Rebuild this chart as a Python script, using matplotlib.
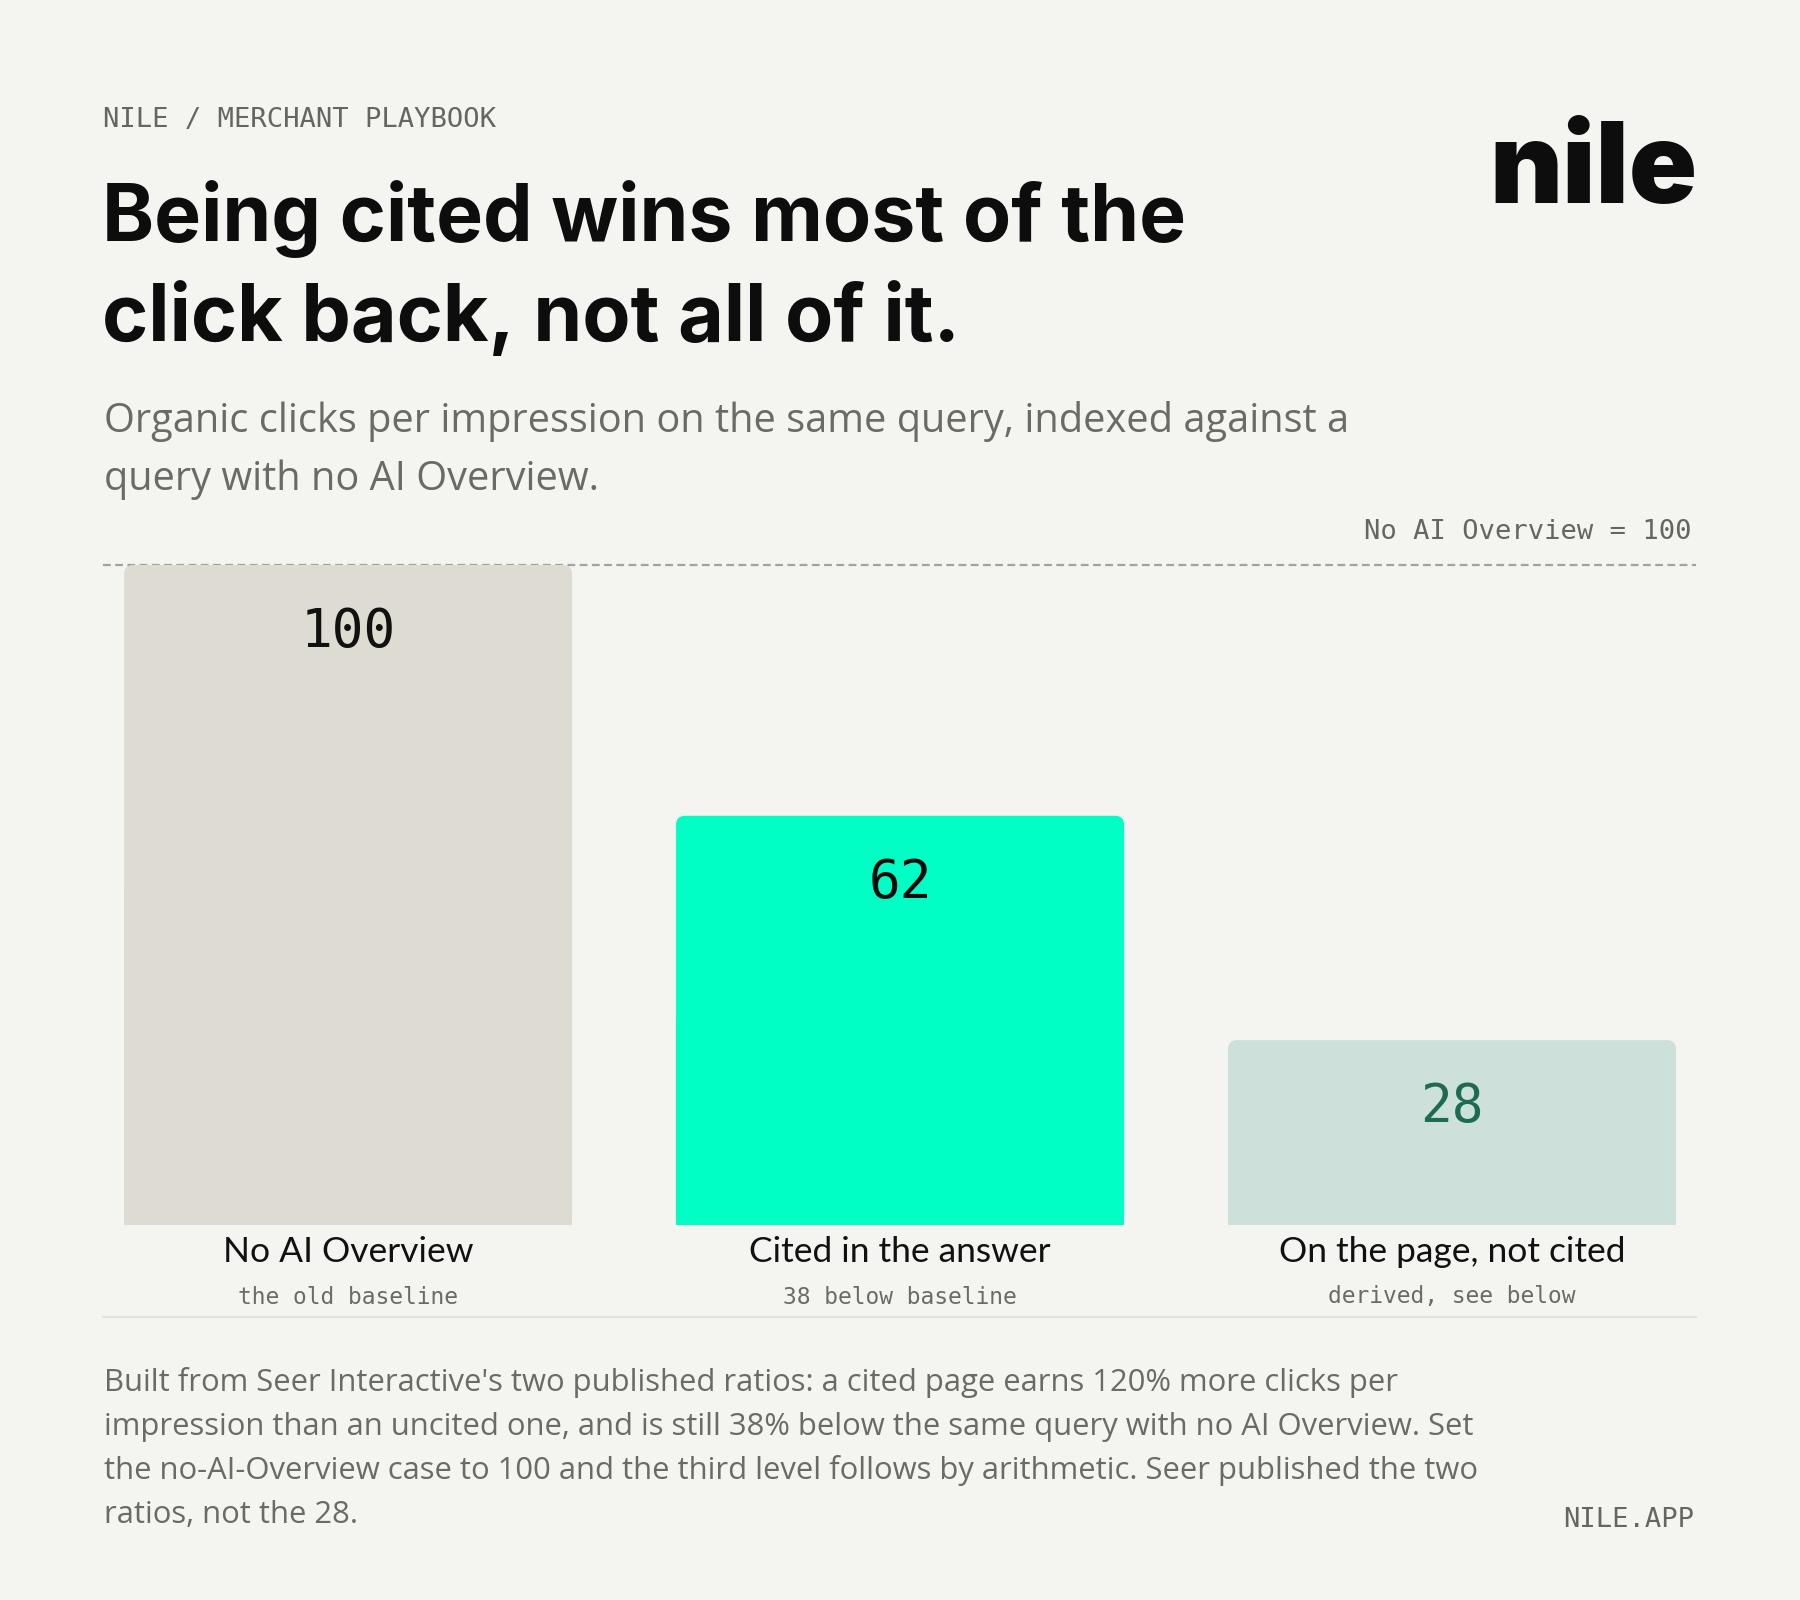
import matplotlib
matplotlib.use("Agg")
import matplotlib.pyplot as plt
from matplotlib.patches import FancyBboxPatch, Rectangle

# ---- data ----
categories = ["No AI Overview", "Cited in the answer", "On the page, not cited"]
sublabels = ["the old baseline", "38 below baseline", "derived, see below"]
values = [100, 62, 28]
value_labels = ["100", "62", "28"]
baseline_value = 100

bar_colors = ["#dedbd3", "#00ffc4", "#cde0da"]
label_colors = ["#111111", "#0b0b0b", "#1d6b52"]

BG = "#f4f4f0"
W, H = 1800, 1600
fig = plt.figure(figsize=(18, 16), dpi=100, facecolor=BG)

def fx(px):
    return px / W

def fy(py):
    return 1 - py / H

SANS = ["Lato", "DejaVu Sans"]
BODY = ["Open Sans", "DejaVu Sans"]
MONO = ["DejaVu Sans Mono"]
GRAY = "#6b6b66"

# header
fig.text(fx(103), fy(120), "NILE / MERCHANT PLAYBOOK", family=MONO, fontsize=19.5,
         color="#666660", va="center", ha="left")
# title
fig.text(fx(102), fy(241), "Being cited wins most of the", family=["Inter", "DejaVu Sans"],
         fontsize=56.7, fontweight="bold", color="#0d0d0d", va="baseline", ha="left")
fig.text(fx(102), fy(341), "click back, not all of it.", family=["Inter", "DejaVu Sans"],
         fontsize=56.7, fontweight="bold", color="#0d0d0d", va="baseline", ha="left")
# logo
fig.text(fx(1697), fy(203), "nile", family=["Inter", "DejaVu Sans"], fontsize=81,
         fontweight="black", color="#0d0d0d", va="baseline", ha="right")
# subtitle
fig.text(fx(104), fy(432), "Organic clicks per impression on the same query, indexed against a",
         family=BODY, fontsize=28.6, color=GRAY, va="baseline", ha="left")
fig.text(fx(104), fy(490), "query with no AI Overview.",
         family=BODY, fontsize=28.6, color=GRAY, va="baseline", ha="left")
# baseline note
fig.text(fx(1691), fy(532), "No AI Overview = 100", family=MONO, fontsize=19.5,
         color="#666660", va="center", ha="right")

# ---- axes ----
ax = fig.add_axes([fx(103), fy(1225), fx(1696) - fx(103), (1225 - 565) / H])
ax.set_facecolor("none")
ax.set_xlim(-0.444, 2.442)
ax.set_ylim(0, 100)
ax.axis("off")

bw = 0.8116
bars = ax.bar(range(len(values)), values, width=bw, color=bar_colors)
# replace with rounded-top shapes
ax_w_px = 1696 - 103
ax_h_px = 1225 - 565
ux = (2.442 + 0.444) / ax_w_px  # data units per px in x
uy = 100 / ax_h_px
r_px = 9
for b, c in zip(bars, bar_colors):
    b.set_visible(False)
    x0, w, h = b.get_x(), b.get_width(), b.get_height()
    rr = r_px * ux
    p = FancyBboxPatch((x0 + rr, rr * uy / ux), w - 2 * rr, h - 2 * rr * uy / ux,
                       boxstyle=f"round,pad={rr}", mutation_aspect=uy / ux,
                       facecolor=c, edgecolor="none")
    ax.add_patch(p)
    ax.add_patch(Rectangle((x0, 0), w, h / 2, facecolor=c, edgecolor="none"))

ax.axhline(baseline_value, color="#a3a39d", lw=1.6, ls=(0, (3.5, 2)), clip_on=False, zorder=0)

for i, (v, lab, lc) in enumerate(zip(values, value_labels, label_colors)):
    ax.annotate(lab, (i, v), xytext=(0, -67 * 0.72), textcoords="offset points",
                ha="center", va="center", family=MONO, fontsize=38, color=lc)
    ax.annotate(categories[i], (i, 0), xytext=(0, -27 * 0.72), textcoords="offset points",
                ha="center", va="center", family=SANS, fontsize=25.5, color="#111111")
    ax.annotate(sublabels[i], (i, 0), xytext=(0, -72 * 0.72), textcoords="offset points",
                ha="center", va="center", family=MONO, fontsize=16.5, color=GRAY)

# separator
fig.add_artist(plt.Line2D([fx(103), fx(1696)], [fy(1317), fy(1317)], color="#e2e2dc", lw=1.5))

# footnote
foot_lines = [
    "Built from Seer Interactive's two published ratios: a cited page earns 120% more clicks per",
    "impression than an uncited one, and is still 38% below the same query with no AI Overview. Set",
    "the no-AI-Overview case to 100 and the third level follows by arithmetic. Seer published the two",
    "ratios, not the 28.",
]
for k, line in enumerate(foot_lines):
    fig.text(fx(104), fy(1391 + 44 * k), line, family=BODY, fontsize=22.3, color=GRAY,
             va="baseline", ha="left")
fig.text(fx(1694), fy(1520), "NILE.APP", family=MONO, fontsize=19.5, color="#666660",
         va="center", ha="right")

fig.savefig("out.png", dpi=100, facecolor=BG)
